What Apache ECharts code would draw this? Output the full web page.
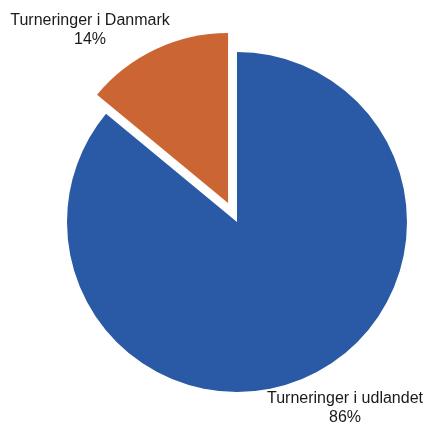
<!DOCTYPE html>
<html>
<head>
<meta charset="utf-8">
<script src="https://cdn.jsdelivr.net/npm/echarts@6/dist/echarts.min.js"></script>
<style>html,body{margin:0;padding:0;background:#fff}#c{width:428px;height:425px}</style>
</head>
<body>
<div id="c"></div>
<script>
const categories = ['Turneringer i udlandet', 'Turneringer i Danmark'];
const values = [86, 14];
const colors = ['#2A5AA5', '#CB6533'];
const explodedIndex = 1;

const labelPos = [
  { x: 345, y: 408 },
  { x: 90, y: 30.5 }
];

const chart = echarts.init(document.getElementById('c'), null, { renderer: 'canvas' });
chart.setOption({
  animation: false,
  backgroundColor: '#ffffff',
  graphic: categories.map((n, i) => ({
    type: 'text',
    x: labelPos[i].x,
    y: labelPos[i].y,
    silent: true,
    style: {
      text: n + '\n' + values[i] + '%',
      fontFamily: 'Liberation Sans, Arial, sans-serif',
      fontSize: 16,
      lineHeight: 19,
      fill: '#1a1a1a',
      align: 'center',
      verticalAlign: 'middle'
    }
  })),
  series: [{
    type: 'pie',
    center: [237, 222],
    radius: [0, 170],
    startAngle: 90,
    clockwise: true,
    selectedMode: 'single',
    selectedOffset: 21,
    emphasis: { disabled: true },
    labelLine: { show: false },
    label: { show: false },
    data: categories.map((n, i) => ({
      name: n,
      value: values[i],
      selected: i === explodedIndex,
      itemStyle: { color: colors[i] },
      select: { itemStyle: { color: colors[i] } }
    }))
  }]
});
</script>
</body>
</html>
